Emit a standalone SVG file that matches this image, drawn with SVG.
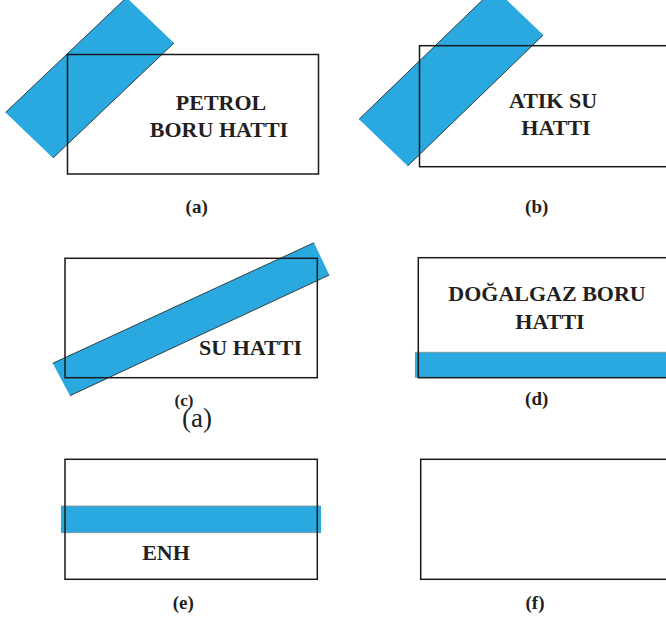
<svg xmlns="http://www.w3.org/2000/svg" width="666" height="622" viewBox="0 0 666 622">
<style>
.box{fill:none;stroke:#1a1a1a;stroke-width:1.5}
.pipe{fill:#29a9e0;stroke:none}
.edge{stroke:#1a1a1a;stroke-width:0.8;fill:none}
.t{font-family:'Liberation Serif','DejaVu Serif',serif;font-weight:700;font-size:22px;fill:#231f20;text-anchor:middle}
.lbl{font-family:'Liberation Serif','DejaVu Serif',serif;font-weight:700;font-size:19px;fill:#231f20;text-anchor:middle}
.big{font-family:'Liberation Serif','DejaVu Serif',serif;font-weight:400;font-size:27px;fill:#231f20;text-anchor:middle}
</style>
<rect width="666" height="622" fill="#ffffff"/>
<g id="panel-a">
<polygon class="pipe" points="5.5,112.5 126.5,-2.5 174,43 53,158"/>
<line class="edge" x1="5.5" y1="112.5" x2="126.5" y2="-2.5"/>
<line class="edge" x1="53" y1="158" x2="174" y2="43"/>
<rect class="box" x="67.5" y="54.5" width="251" height="119.5"/>
<text class="t" x="221" y="110">PETROL</text>
<text class="t" x="219" y="137">BORU HATTI</text>
<text class="lbl" x="196.7" y="213">(a)</text>
</g>
<g id="panel-b">
<polygon class="pipe" points="359,119.3 494.6,-11.7 543.3,35 407.7,166"/>
<line class="edge" x1="359" y1="119.3" x2="494.6" y2="-11.7"/>
<line class="edge" x1="407.7" y1="166" x2="543.3" y2="35"/>
<rect class="box" x="419.5" y="45.7" width="260" height="121"/>
<text class="t" x="553" y="107.5">ATIK SU</text>
<text class="t" x="556" y="135">HATTI</text>
<text class="lbl" x="536.7" y="213">(b)</text>
</g>
<g id="panel-c">
<polygon class="pipe" points="52.7,363.3 314,242.7 329.3,275 70,395.7"/>
<line class="edge" x1="52.7" y1="363.3" x2="314" y2="242.7"/>
<line class="edge" x1="70" y1="395.7" x2="329.3" y2="275"/>
<rect class="box" x="65" y="258.3" width="252.3" height="119.4"/>
<text class="t" x="250.5" y="355">SU HATTI</text>
<text class="lbl" x="184" y="406" style="font-size:17px">(c)</text>
<text class="big" x="197" y="427">(a)</text>
</g>
<g id="panel-d">
<rect class="pipe" x="415" y="352.3" width="260" height="25.4"/>
<line x1="415" y1="352.3" x2="666" y2="352.3" stroke="#8a8a8a" stroke-width="0.8"/>
<rect class="box" x="418.3" y="257.7" width="260" height="120"/>
<text class="t" x="547" y="301">DOĞALGAZ BORU</text>
<text class="t" x="550" y="328.5">HATTI</text>
<text class="lbl" x="536.7" y="405">(d)</text>
</g>
<g id="panel-e">
<rect class="pipe" x="61" y="506" width="260" height="26.7"/>
<line x1="61" y1="506" x2="321" y2="506" stroke="#8a8a8a" stroke-width="0.8"/>
<line x1="61" y1="532.7" x2="321" y2="532.7" stroke="#8a8a8a" stroke-width="0.8"/>
<rect class="box" x="65" y="459.3" width="252.3" height="120"/>
<text class="t" x="166" y="560">ENH</text>
<text class="lbl" x="183.3" y="609">(e)</text>
</g>
<g id="panel-f">
<rect class="box" x="420.7" y="459.3" width="260" height="120"/>
<text class="lbl" x="535" y="609">(f)</text>
</g>
<g id="connectors"></g>
</svg>
